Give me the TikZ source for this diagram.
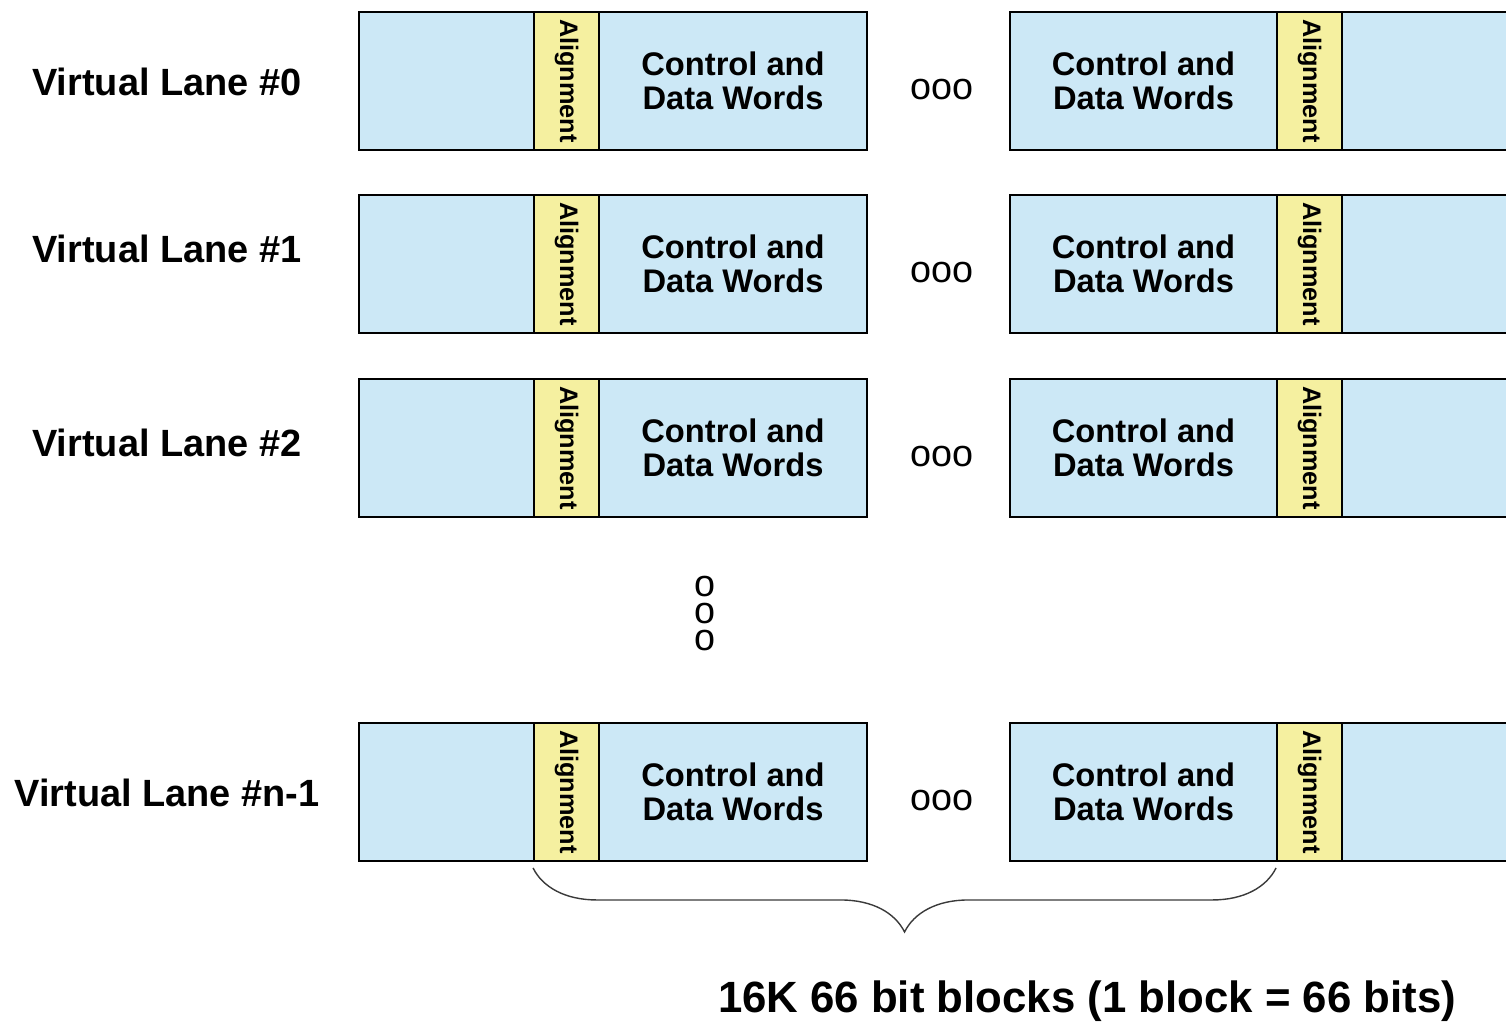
\documentclass[tikz,border=0pt]{standalone}
\usepackage{fontspec}
\setmainfont{Liberation Sans}
\usetikzlibrary{positioning,decorations.pathreplacing}
\definecolor{LaneBlue}{HTML}{CCE8F6}
\definecolor{AlignYellow}{HTML}{F5F0A0}
\definecolor{BraceGray}{HTML}{3A3A3A}

\begin{document}
\begin{tikzpicture}[x=0.02cm,y=-0.02cm,
    frame/.style={draw=black,fill=LaneBlue,line width=1.1pt,
                  minimum height=2.76cm,inner sep=0pt},
    strip/.style={draw=black,fill=AlignYellow,line width=1.1pt,
                  minimum width=1.3cm,minimum height=2.76cm,inner sep=0pt,
                  label={[rotate=-90,inner sep=0pt,
                          font=\fontsize{14.4pt}{16pt}\selectfont\bfseries]center:Alignment}},
    words/.style={align=center,font=\fontsize{18.6pt}{19.4pt}\selectfont\bfseries},
    lanelabel/.style={font=\fontsize{21.6pt}{26pt}\selectfont\bfseries},
    dots/.style={inner sep=0pt,font=\fontsize{21.5pt}{26pt}\selectfont},
    brace/.style={decorate,decoration={brace,mirror,amplitude=1.28cm,raise=0.12cm},
                  BraceGray,line width=0.8pt},
    caption/.style={font=\fontsize{24.9pt}{30pt}\selectfont\bfseries}]

    \useasboundingbox (0,0) rectangle (1506,1022);
    \clip (0,0) rectangle (1506,1022);

    \foreach \i/\yc/\ly/\lane in {0/81/82/0,1/264/249/1,2/448/443/2,3/792/793/n-1}{
      \node[lanelabel] (lab\i) at (167,\ly) {Virtual Lane \#\lane};
      \node[frame,minimum width=10.16cm] (fl\i) at (613,\yc) {};
      \node[strip] (al\i) at (566.5,\yc) {};
      \node[words] (wl\i) at (733,\yc) {Control and\\Data Words};
      \node[dots] (gap\i) at (942,\yc+9) {ooo};
      \node[frame,minimum width=11cm] (fr\i) at (1285,\yc) {};
      \node[strip] (ar\i) at (1309.5,\yc) {};
      \node[words] (wr\i) at (1143.5,\yc) {Control and\\Data Words};
    }

    \foreach \k/\yv in {1/587,2/614,3/641}
      \node[dots] (vdot\k) at (705,\yv) {o};

    \draw[brace] (al3.south west) -- (ar3.south west);
    \node[caption] (blocks) at (1087,1001) {16K 66 bit blocks (1 block = 66 bits)};
\end{tikzpicture}
\end{document}
